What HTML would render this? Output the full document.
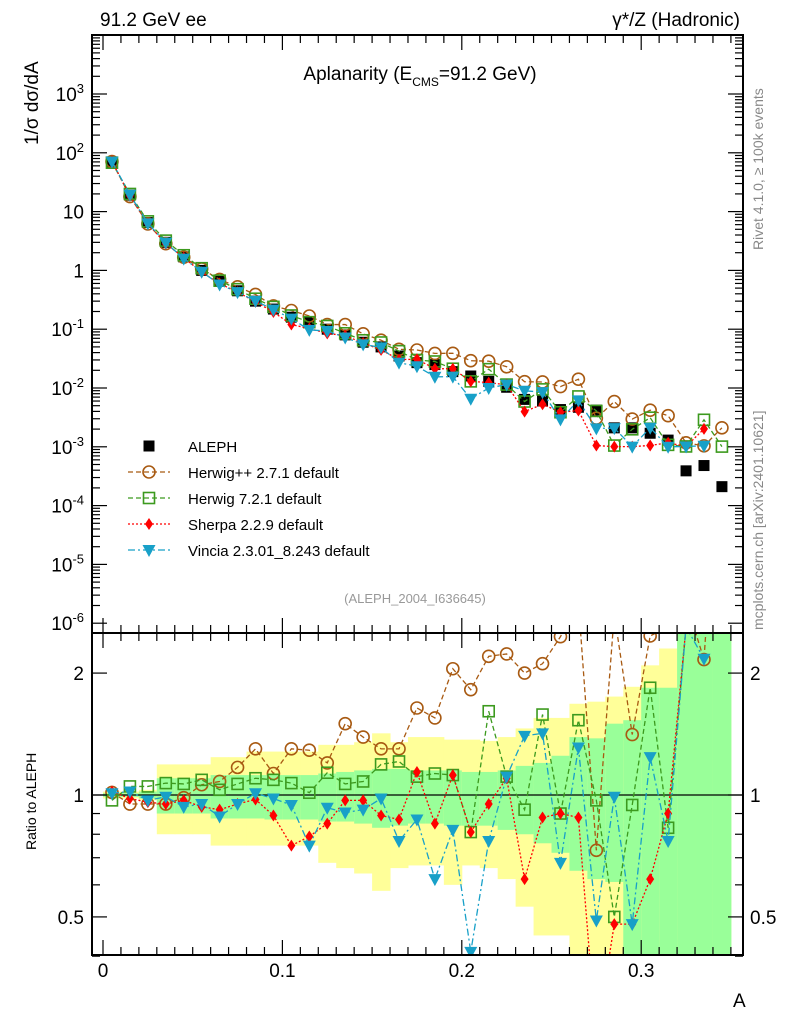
<!DOCTYPE html>
<html><head><meta charset="utf-8"><style>
body{margin:0;background:#fff}
svg text{font-family:"Liberation Sans",sans-serif}
</style></head><body>
<svg id="c" width="786" height="1024" xmlns="http://www.w3.org/2000/svg">
<defs>
<clipPath id="clipM"><rect x="92" y="35" width="651" height="598"/></clipPath>
<clipPath id="clipR"><rect x="92" y="633" width="651" height="322"/></clipPath>
</defs>
<g id="bands" clip-path="url(#clipR)"></g>
<g id="lines"></g>
<g id="axes"></g>
<text x="100" y="26" font-size="19">91.2 GeV ee</text>
<text x="740" y="26" font-size="19" text-anchor="end">γ*/Z (Hadronic)</text>
<text x="420" y="80" font-size="19" text-anchor="middle">Aplanarity (E<tspan font-size="12" dy="6">CMS</tspan><tspan dy="-6">=91.2 GeV)</tspan></text>
<text x="415" y="603" font-size="13" fill="#999" text-anchor="middle">(ALEPH_2004_I636645)</text>
<text transform="translate(38,145) rotate(-90)" font-size="19">1/σ  dσ/dA</text>
<text transform="translate(36,850) rotate(-90)" font-size="14">Ratio to ALEPH</text>
<text x="733" y="1007" font-size="19">A</text>
<text transform="translate(763,250) rotate(-90)" font-size="14" fill="#888">Rivet 4.1.0, ≥ 100k events</text>
<text transform="translate(763,630) rotate(-90)" font-size="14" fill="#888">mcplots.cern.ch [arXiv:2401.10621]</text>
<g id="legend"></g>
</svg>
<script>
const ns="http://www.w3.org/2000/svg";
const bins=[0.005,0.015,0.025,0.035,0.045,0.055,0.065,0.075,0.085,0.095,0.105,0.115,0.125,0.135,0.145,0.155,0.165,0.175,0.185,0.195,0.205,0.215,0.225,0.235,0.245,0.255,0.265,0.275,0.285,0.295,0.305,0.315,0.325,0.335,0.345];
const aleph=[70,19,6.5,3.0,1.7,1.0,0.65,0.45,0.30,0.22,0.16,0.13,0.10,0.08,0.06,0.05,0.035,0.027,0.025,0.019,0.016,0.013,0.0103,0.0064,0.006,0.0043,0.0047,0.0042,0.0021,0.0021,0.0017,0.0013,0.00039,0.00048,0.00021];
const rHerwigPP=[1.015,0.95,0.95,0.95,0.985,1.06,1.08,1.17,1.30,1.13,1.30,1.29,1.20,1.50,1.39,1.30,1.30,1.64,1.55,2.05,1.82,2.20,2.23,2.0,2.11,2.46,3.0,0.73,2.8,1.41,2.47,2.6,3.0,2.16,10];
const rHerwig7=[0.97,1.05,1.05,1.07,1.065,1.09,1.03,1.065,1.10,1.09,1.07,1.013,1.135,1.065,1.08,1.19,1.21,1.11,1.13,1.12,0.81,1.61,1.11,0.92,1.58,0.90,1.53,0.97,0.50,0.945,1.84,0.83,2.6,6.0,4.8];
const rSherpa=[1.02,0.98,0.96,0.95,0.97,0.935,0.92,0.95,0.975,0.89,0.75,0.79,0.85,0.97,0.97,0.89,0.87,1.14,0.85,1.12,0.81,0.95,1.10,0.62,0.88,0.90,0.88,0.25,0.48,0.48,0.62,0.9,2.6,4.2,null];
const rVincia=[1.01,1.02,0.97,0.99,0.935,0.95,0.885,0.95,1.01,0.98,0.945,0.75,0.93,0.905,0.92,0.98,0.77,0.87,0.62,0.82,0.41,0.77,1.11,1.40,1.42,0.68,1.31,0.49,0.99,0.48,1.24,0.77,2.6,2.17,null];
const totUp=[1.02,1.02,1.03,1.19,1.19,1.19,1.24,1.24,1.28,1.28,1.28,1.28,1.33,1.33,1.35,1.42,1.35,1.39,1.39,1.37,1.37,1.36,1.39,1.46,1.55,1.55,1.68,1.70,1.75,1.85,2.09,2.3,3,3,3];
const totDn=[0.98,0.98,0.97,0.80,0.80,0.80,0.75,0.75,0.75,0.75,0.75,0.75,0.68,0.66,0.64,0.58,0.66,0.67,0.67,0.60,0.67,0.66,0.62,0.53,0.45,0.45,0.38,0.38,0.38,0.38,0.38,0.38,0.3,0.3,0.3];
const statUp=[1.01,1.01,1.02,1.10,1.10,1.10,1.12,1.12,1.12,1.12,1.12,1.12,1.13,1.14,1.15,1.16,1.16,1.15,1.15,1.15,1.14,1.14,1.15,1.18,1.20,1.25,1.39,1.38,1.50,1.53,1.84,1.84,3,3,3];
const statDn=[0.99,0.99,0.98,0.90,0.90,0.90,0.875,0.875,0.875,0.87,0.87,0.87,0.86,0.86,0.85,0.83,0.84,0.85,0.85,0.84,0.84,0.84,0.82,0.80,0.76,0.72,0.65,0.62,0.61,0.40,0.38,0.38,0.3,0.3,0.3];
const xTicks=[0,0.1,0.2,0.3];
const xTickLabels=["0","0.1","0.2","0.3"];
const yDecades=[-6,-5,-4,-3,-2,-1,0,1,2,3];
const rTicks=[0.5,1,2];

const X=v=>103+v*1794;
const Y=v=>94+58.8*(3-Math.log10(v));
const R=r=>795-405*Math.log10(r);
function mk(tag,attrs,parent){const e=document.createElementNS(ns,tag);for(const k in attrs)e.setAttribute(k,attrs[k]);parent.appendChild(e);return e;}

const bg=document.getElementById('bands');
bins.forEach((b,i)=>{
  const x0=X(b-0.005),x1=X(b+0.005);
  const y=mk('rect',{x:x0,y:R(totUp[i]),width:x1-x0+0.5,height:R(totDn[i])-R(totUp[i]),fill:'#ffff99'},bg);
  
  
  const g=mk('rect',{x:x0,y:R(statUp[i]),width:x1-x0+0.5,height:R(statDn[i])-R(statUp[i]),fill:'#99ff99'},bg);
  
  
});

const series=[
 {name:'Herwig++ 2.7.1 default',r:rHerwigPP,col:'#a85a12',dash:'5,3',m:'circle',key:'herwigpp'},
 {name:'Herwig 7.2.1 default',r:rHerwig7,col:'#3c9a1e',dash:'5,3',m:'square',key:'herwig7'},
 {name:'Sherpa 2.2.9 default',r:rSherpa,col:'#ff0000',dash:'2,2',m:'diamond',key:'sherpa'},
 {name:'Vincia 2.3.01_8.243 default',r:rVincia,col:'#18a0c8',dash:'7,3,2,3',m:'tri',key:'vincia'}
];
function marker(type,x,y,col,parent){
  let e;
  if(type==='circle')e=mk('circle',{cx:x,cy:y,r:6,fill:'none',stroke:col,'stroke-width':1.6},parent);
  else if(type==='square')e=mk('rect',{x:x-5.5,y:y-5.5,width:11,height:11,fill:'none',stroke:col,'stroke-width':1.6},parent);
  else if(type==='diamond')e=mk('polygon',{points:`${x},${y-6} ${x+4},${y} ${x},${y+6} ${x-4},${y}`,fill:col},parent);
  else if(type==='tri')e=mk('polygon',{points:`${x-6.5},${y-5} ${x+6.5},${y-5} ${x},${y+7}`,fill:col},parent);
  else e=mk('rect',{x:x-5.5,y:y-5.5,width:11,height:11,fill:'#000'},parent);
  return e;
}
const lg=document.getElementById('lines');
const gm=mk('g',{'clip-path':'url(#clipM)'},lg);
const gr=mk('g',{'clip-path':'url(#clipR)'},lg);
mk('line',{x1:92,x2:743,y1:R(1),y2:R(1),stroke:'#000','stroke-width':1.2},gr);
bins.forEach((b,i)=>{const m=marker('data',X(b),Y(aleph[i]),'#000',gm);});
series.forEach(s=>{
  const ptsM=[],ptsR=[];
  bins.forEach((b,i)=>{if(s.r[i]==null)return;ptsM.push([X(b),Y(aleph[i]*s.r[i])]);ptsR.push([X(b),R(s.r[i])]);});
  const pm=mk('polyline',{points:ptsM.map(p=>p.join(',')).join(' '),fill:'none',stroke:s.col,'stroke-width':1.3,'stroke-dasharray':s.dash},gm);
  
  
  const pr=mk('polyline',{points:ptsR.map(p=>p.join(',')).join(' '),fill:'none',stroke:s.col,'stroke-width':1.3,'stroke-dasharray':s.dash},gr);
  
  
  ptsM.forEach(p=>{const m=marker(s.m,p[0],p[1],s.col,gm);});
  ptsR.forEach(p=>{const m=marker(s.m,p[0],p[1],s.col,gr);});
});

const ax=document.getElementById('axes');
mk('rect',{x:92,y:35,width:651,height:598,fill:'none',stroke:'#000','stroke-width':2},ax);
mk('rect',{x:92,y:633,width:651,height:322,fill:'none',stroke:'#000','stroke-width':2},ax);
for(let v=0;v<=0.355;v+=0.01){
  const x=X(v),maj=Math.abs(v*10-Math.round(v*10))<1e-6,l=maj?15:8;
  [[35,1],[633,-1],[633,1],[955,-1]].forEach(([y0,d])=>mk('line',{x1:x,x2:x,y1:y0,y2:y0+d*l,stroke:'#000','stroke-width':1.2},ax));
}
xTicks.forEach((v,i)=>{const t=mk('text',{x:X(v),y:977,'font-size':19,'text-anchor':'middle'},ax);t.textContent=xTickLabels[i];});
yDecades.forEach(d=>{
  for(let k=1;k<10;k++){const y=Y(k*Math.pow(10,d));if(y<35||y>633)continue;const l=k===1?15:8;
    mk('line',{x1:92,x2:92+l,y1:y,y2:y,stroke:'#000','stroke-width':1.2},ax);mk('line',{x1:743,x2:743-l,y1:y,y2:y,stroke:'#000','stroke-width':1.2},ax);}
  const y=Y(Math.pow(10,d));const t=mk('text',{x:84,y:y+7,'font-size':19,'text-anchor':'end'},ax);
  if(d===0)t.textContent='1';else if(d===1)t.textContent='10';
  else{t.textContent='10';const s=mk('tspan',{'font-size':13,dy:-8},t);s.textContent=String(d);}
  
});
[0.4,0.5,0.6,0.7,0.8,0.9,1,2].forEach(r=>{const y=R(r),l=(r===0.5||r===1||r===2)?15:8;
  mk('line',{x1:92,x2:92+l,y1:y,y2:y,stroke:'#000','stroke-width':1.2},ax);mk('line',{x1:743,x2:743-l,y1:y,y2:y,stroke:'#000','stroke-width':1.2},ax);});
rTicks.forEach(r=>{[[84,'end'],[750,'start']].forEach(([x,a])=>{const t=mk('text',{x:x,y:R(r)+7,'font-size':19,'text-anchor':a},ax);t.textContent=String(r);});});

const lgd=document.getElementById('legend');
const rows=[{name:'ALEPH',m:'data',col:'#000'}].concat(series);
rows.forEach((s,i)=>{
  const y=446+i*26;
  const g=mk('g',{},lgd);
  
  
  if(s.dash)mk('line',{x1:128,x2:170,y1:y,y2:y,stroke:s.col,'stroke-width':1.3,'stroke-dasharray':s.dash},g);
  marker(s.m,149,y,s.col,g);
  const t=mk('text',{x:188,y:y+6,'font-size':15},g);t.textContent=s.name;
});
</script>
</body></html>
